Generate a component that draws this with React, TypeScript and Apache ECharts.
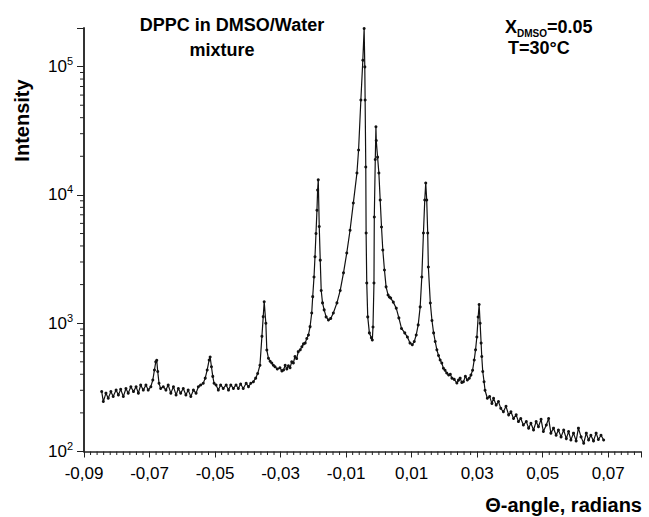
import React, { useEffect, useRef } from "react";
import * as echarts from "echarts";

// Θ-angle (radians)
const theta = [
  -0.0846, -0.0841, -0.0833, -0.0826, -0.0818, -0.0811, -0.0802, -0.0795, -0.0788, -0.078,
  -0.0772, -0.0765, -0.0757, -0.0749, -0.0741, -0.0734, -0.0727, -0.0719, -0.0711, -0.0704,
  -0.0696, -0.069, -0.0685, -0.0681, -0.0678, -0.0675, -0.0671, -0.0666, -0.0658, -0.065,
  -0.0643, -0.0635, -0.0627, -0.0619, -0.0612, -0.0605, -0.0597, -0.0589, -0.0582, -0.0574,
  -0.0566, -0.0558, -0.0551, -0.0544, -0.0536, -0.053, -0.0524, -0.0518, -0.0515, -0.0511,
  -0.0507, -0.0503, -0.0497, -0.049, -0.0483, -0.0475, -0.0466, -0.0459, -0.0452, -0.0444,
  -0.0436, -0.0429, -0.0422, -0.0414, -0.0405, -0.0398, -0.0391, -0.0383, -0.0376, -0.037,
  -0.0363, -0.0357, -0.0353, -0.035, -0.0345, -0.0342, -0.0337, -0.0332, -0.0327, -0.0322,
  -0.0317, -0.031, -0.0302, -0.0296, -0.0291, -0.0286, -0.0281, -0.0276, -0.0271, -0.0266,
  -0.0261, -0.0256, -0.0251, -0.0246, -0.024, -0.0235, -0.023, -0.0225, -0.022, -0.0215,
  -0.021, -0.0205, -0.0202, -0.0198, -0.0195, -0.0192, -0.0189, -0.0187, -0.0185, -0.0182,
  -0.0179, -0.0176, -0.0172, -0.0167, -0.0161, -0.0154, -0.0147, -0.0139, -0.0128, -0.0118,
  -0.0108, -0.0098, -0.0088, -0.0078, -0.0067, -0.0062, -0.0055, -0.0049, -0.0045, -0.0043,
  -0.0042, -0.004, -0.0039, -0.0037, -0.0034, -0.0029, -0.0023, -0.002, -0.0018, -0.0015,
  -0.0014, -0.0011, -0.0009, -0.0008, -0.0004, 0.0, 0.0004, 0.0008, 0.0012, 0.0017,
  0.0022, 0.0028, 0.0032, 0.0036, 0.0044, 0.0053, 0.0061, 0.0069, 0.0079, 0.0087,
  0.0095, 0.0102, 0.0108, 0.0114, 0.012, 0.0126, 0.0131, 0.0136, 0.014, 0.0143,
  0.0146, 0.0149, 0.0151, 0.0157, 0.0162, 0.0167, 0.0172, 0.0177, 0.0182, 0.0187,
  0.0192, 0.0197, 0.0202, 0.0207, 0.0213, 0.0218, 0.0223, 0.023, 0.0238, 0.0243,
  0.0248, 0.0253, 0.0258, 0.0264, 0.027, 0.0276, 0.0281, 0.0286, 0.0291, 0.0295,
  0.0299, 0.0303, 0.0306, 0.0309, 0.0312, 0.0314, 0.0317, 0.0321, 0.0324, 0.0331,
  0.0338, 0.0345, 0.035, 0.0358, 0.0365, 0.0372, 0.038, 0.0388, 0.0396, 0.0403,
  0.0411, 0.0419, 0.0426, 0.0433, 0.0441, 0.045, 0.0457, 0.0464, 0.0472, 0.048,
  0.0487, 0.0495, 0.0502, 0.0511, 0.0518, 0.0525, 0.0533, 0.0541, 0.0548, 0.0556,
  0.0564, 0.0572, 0.0579, 0.0586, 0.0594, 0.0602, 0.0609, 0.0617, 0.0625, 0.0633,
  0.064, 0.0647, 0.0655, 0.0663, 0.067, 0.0678, 0.0686,
];

// Intensity (counts)
const intensity = [
  293, 245, 285, 260, 293, 268, 301, 276, 305, 268,
  310, 285, 320, 293, 320, 285, 330, 301, 330, 301,
  320, 361, 432, 500, 515, 420, 340, 310, 320, 301,
  330, 285, 320, 276, 310, 285, 310, 276, 301, 268,
  301, 285, 320, 330, 340, 373, 432, 517, 545, 458,
  385, 340, 330, 301, 330, 310, 330, 301, 330, 310,
  330, 310, 336, 310, 340, 320, 340, 350, 373, 405,
  470, 790, 1125, 1470, 1000, 618, 533, 505, 490, 470,
  458, 440, 450, 425, 432, 470, 440, 465, 450, 500,
  490, 550, 530, 600, 620, 655, 690, 700, 760, 810,
  940, 1200, 1610, 2290, 3300, 5000, 7600, 10900, 13100, 5680,
  3100, 1800, 1440, 1270, 1120, 1060, 1090, 1200, 1440, 1800,
  2470, 3530, 5300, 8640, 14800, 22400, 54900, 112000, 198000, 99500,
  54900, 16500, 5050, 2060, 1120, 840, 770, 740, 935, 2060,
  6730, 18900, 34000, 26500, 19700, 14800, 9130, 5620, 3720, 2600,
  1920, 1660, 1600, 1570, 1460, 1310, 1100, 910, 840, 780,
  700, 680, 720, 810, 970, 1340, 2290, 5050, 9130, 12400,
  9130, 5050, 2740, 1437, 1050, 840, 720, 620, 560, 517,
  490, 445, 430, 409, 395, 400, 373, 365, 342, 360,
  373, 345, 350, 385, 361, 372, 394, 430, 517, 620,
  780, 1117, 1400, 1000, 700, 550, 420, 350, 300, 260,
  268, 237, 260, 230, 245, 217, 204, 225, 193, 204,
  181, 193, 171, 181, 161, 171, 152, 166, 147, 171,
  156, 178, 143, 161, 181, 139, 152, 134, 147, 130,
  147, 126, 143, 123, 139, 121, 152, 130, 116, 139,
  123, 134, 121, 139, 124, 134, 123,
];

// Axis settings (values)
const xMin = -0.09;
const xMax = 0.08;
const xStep = 0.02;
const xMinorStep = 0.002;
const yMin = 100;
const yMax = 200000;
const yMinorTickValues = [
  200, 300, 400, 500, 600, 700, 800, 900,
  2000, 3000, 4000, 5000, 6000, 7000, 8000, 9000,
  20000, 30000, 40000, 50000, 60000, 70000, 80000, 90000,
];

const FONT = "'Liberation Sans', Arial, Helvetica, sans-serif";

export default function App() {
  const ref = useRef<HTMLDivElement>(null);

  useEffect(() => {
    if (!ref.current) return;
    const chart = echarts.init(ref.current, undefined, { renderer: "svg" });

    const lineData = theta.map((t, i) => [t, intensity[i]]);
    const yMinorData = yMinorTickValues.map((v) => [xMin, v, 0]);
    const xMinorData: number[][] = [];
    const nMinor = Math.round((xMax - xMin) / xMinorStep);
    for (let i = 1; i < nMinor; i++) {
      const v = +(xMin + i * xMinorStep).toFixed(4);
      const k = (v - xMin) / xStep;
      if (Math.abs(k - Math.round(k)) < 1e-6) continue;
      xMinorData.push([v, yMin, 1]);
    }

    chart.setOption({
      animation: false,
      backgroundColor: "#ffffff",
      textStyle: { fontFamily: FONT, color: "#000" },
      grid: { left: 84, right: 8, top: 28, bottom: 65.5 },
      xAxis: {
        type: "value",
        min: xMin,
        max: xMax,
        interval: xStep,
        axisLine: { show: true, onZero: false, lineStyle: { color: "#222", width: 1.5 } },
        axisTick: { show: true, length: 6, lineStyle: { color: "#222", width: 1 } },
        splitLine: { show: false },
        axisLabel: {
          margin: 13,
          fontSize: 17,
          color: "#000",
          fontFamily: FONT,
          formatter: (v: number) => {
            const r = Math.round(v * 100);
            if (Math.abs(v * 100 - r) > 1e-6 || r % 2 === 0) return "";
            return v.toFixed(2).replace(".", ",");
          },
        },
      },
      yAxis: {
        type: "log",
        logBase: 10,
        min: yMin,
        max: yMax,
        axisLine: { show: true, onZero: false, lineStyle: { color: "#333", width: 2 } },
        axisTick: { show: true, length: 7, lineStyle: { color: "#222", width: 1 } },
        splitLine: { show: false },
        axisLabel: {
          margin: 11,
          color: "#000",
          fontFamily: FONT,
          formatter: (v: number) => {
            const l = Math.log10(v);
            const e = Math.round(l);
            if (Math.abs(l - e) > 1e-6) return "";
            return `{b|10}{s|${e}}`;
          },
          rich: {
            b: { fontSize: 17, lineHeight: 22, fontFamily: FONT, color: "#000" },
            s: { fontSize: 11, lineHeight: 11, verticalAlign: "top", fontFamily: FONT, color: "#000" },
          },
        },
      },
      series: [
        {
          type: "line",
          data: lineData,
          symbol: "circle",
          symbolSize: 3,
          showSymbol: true,
          lineStyle: { color: "#111", width: 1.2 },
          itemStyle: { color: "#111" },
          silent: true,
          z: 3,
        },
        {
          type: "custom",
          data: [...yMinorData, ...xMinorData],
          silent: true,
          clip: false,
          encode: { x: 0, y: 1 },
          z: 4,
          renderItem: (params: any, api: any) => {
            const p = api.coord([api.value(0), api.value(1)]);
            const horiz = api.value(2) === 1;
            const shape = horiz
              ? { x1: p[0], y1: p[1], x2: p[0], y2: p[1] + 3.5 }
              : { x1: p[0] - 4, y1: p[1], x2: p[0], y2: p[1] };
            return {
              type: "line",
              shape,
              style: { stroke: "#222", lineWidth: 1 },
            };
          },
        },
      ],
      graphic: [
        {
          type: "text",
          x: 232,
          y: 25,
          style: {
            text: "DPPC in DMSO/Water",
            font: `bold 18px ${FONT}`,
            fill: "#000",
            align: "center",
            verticalAlign: "middle",
          },
        },
        {
          type: "text",
          x: 222,
          y: 50,
          style: {
            text: "mixture",
            font: `bold 18px ${FONT}`,
            fill: "#000",
            align: "center",
            verticalAlign: "middle",
          },
        },
        {
          type: "text",
          x: 505,
          y: 26.5,
          style: {
            text: "{x|X}{sub|DMSO}{x|=0.05}",
            fill: "#000",
            align: "left",
            verticalAlign: "middle",
            rich: {
              x: { fontSize: 18, fontWeight: "bold", lineHeight: 24, fontFamily: FONT, fill: "#000" },
              sub: { fontSize: 10, fontWeight: "bold", lineHeight: 12, verticalAlign: "bottom", fontFamily: FONT, fill: "#000" },
            },
          },
        },
        {
          type: "text",
          x: 508,
          y: 47.5,
          style: {
            text: "T=30°C",
            font: `bold 18px ${FONT}`,
            fill: "#000",
            align: "left",
            verticalAlign: "middle",
          },
        },
        {
          type: "text",
          x: 22,
          y: 120.5,
          rotation: Math.PI / 2,
          style: {
            text: "Intensity",
            font: `bold 20px ${FONT}`,
            fill: "#000",
            align: "center",
            verticalAlign: "middle",
          },
        },
        {
          type: "text",
          x: 642,
          y: 505,
          style: {
            text: "Θ-angle, radians",
            font: `bold 20px ${FONT}`,
            fill: "#000",
            align: "right",
            verticalAlign: "middle",
          },
        },
      ],
    });

    return () => chart.dispose();
  }, []);

  return (
    <div
      ref={ref}
      style={{ position: "fixed", left: 0, top: 0, width: 649, height: 517 }}
    />
  );
}
